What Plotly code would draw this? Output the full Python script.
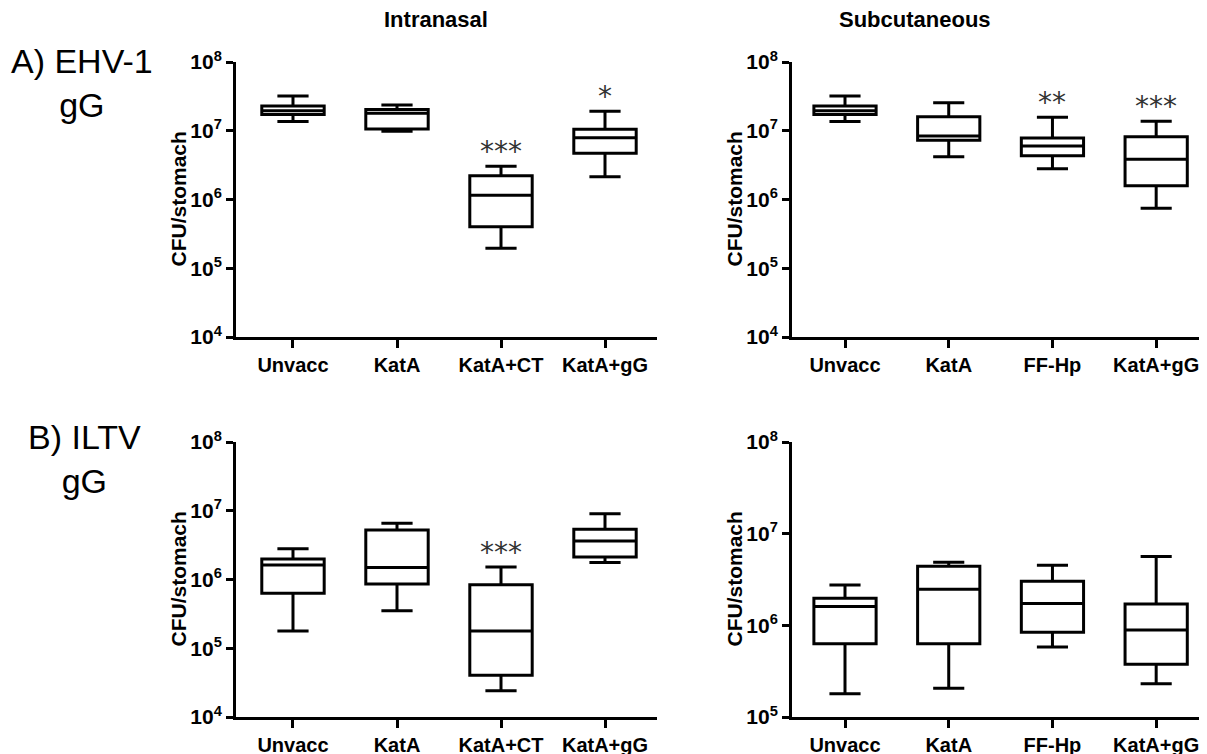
import plotly.graph_objects as go
import math

# ---------------- data ----------------
groups_intranasal = ["Unvacc", "KatA", "KatA+CT", "KatA+gG"]
groups_subcut = ["Unvacc", "KatA", "FF-Hp", "KatA+gG"]

# EHV-1 gG, intranasal
ehv_in_low = [1.36e7, 9.8e6, 1.96e5, 2.15e6]
ehv_in_q1 = [1.73e7, 1.06e7, 4.0e5, 4.7e6]
ehv_in_med = [1.95e7, 1.8e7, 1.15e6, 7.9e6]
ehv_in_q3 = [2.3e7, 2.04e7, 2.22e6, 1.05e7]
ehv_in_high = [3.2e7, 2.37e7, 3.04e6, 1.92e7]
ehv_in_sig = ["", "", "***", "*"]

# EHV-1 gG, subcutaneous
ehv_sc_low = [1.36e7, 4.2e6, 2.8e6, 7.45e5]
ehv_sc_q1 = [1.73e7, 7.3e6, 4.34e6, 1.58e6]
ehv_sc_med = [1.95e7, 8.4e6, 6.0e6, 3.85e6]
ehv_sc_q3 = [2.3e7, 1.6e7, 7.85e6, 8.2e6]
ehv_sc_high = [3.2e7, 2.56e7, 1.57e7, 1.37e7]
ehv_sc_sig = ["", "", "**", "***"]

# ILTV gG, intranasal
iltv_in_low = [1.78e5, 3.5e5, 2.4e4, 1.76e6]
iltv_in_q1 = [6.3e5, 8.6e5, 4.04e4, 2.12e6]
iltv_in_med = [1.63e6, 1.49e6, 1.78e5, 3.63e6]
iltv_in_q3 = [1.99e6, 5.25e6, 8.4e5, 5.37e6]
iltv_in_high = [2.8e6, 6.56e6, 1.52e6, 9.06e6]
iltv_in_sig = ["", "", "***", ""]

# ILTV gG, subcutaneous
iltv_sc_low = [1.79e5, 2.06e5, 5.8e5, 2.3e5]
iltv_sc_q1 = [6.3e5, 6.3e5, 8.4e5, 3.77e5]
iltv_sc_med = [1.6e6, 2.48e6, 1.73e6, 8.9e5]
iltv_sc_q3 = [1.97e6, 4.4e6, 3.02e6, 1.71e6]
iltv_sc_high = [2.75e6, 4.88e6, 4.52e6, 5.63e6]
iltv_sc_sig = ["", "", "", ""]

col_titles = ["Intranasal", "Subcutaneous"]
row_titles = ["A) EHV-1<br>gG", "B) ILTV<br>gG"]
y_title = "CFU/stomach"

# ---------------- layout helpers ----------------
W, H = 1207, 754
OFF = 8  # page body margin that offsets the figure in the browser
FONT = "Liberation Sans, Arial, sans-serif"

def px_x(p):
    return (p - OFF) / W

def px_y(p):
    return (H - (p - OFF)) / H

panels = [
    ("", groups_intranasal, ehv_in_low, ehv_in_q1, ehv_in_med, ehv_in_q3, ehv_in_high, ehv_in_sig,
     (236, 657), (62, 337), [4, 8], [-0.548, 3.5]),
    ("2", groups_subcut, ehv_sc_low, ehv_sc_q1, ehv_sc_med, ehv_sc_q3, ehv_sc_high, ehv_sc_sig,
     (792, 1207), (62, 337), [4, 8], [-0.511, 3.49]),
    ("3", groups_intranasal, iltv_in_low, iltv_in_q1, iltv_in_med, iltv_in_q3, iltv_in_high, iltv_in_sig,
     (236, 657), (442, 717), [4, 8], [-0.548, 3.5]),
    ("4", groups_subcut, iltv_sc_low, iltv_sc_q1, iltv_sc_med, iltv_sc_q3, iltv_sc_high, iltv_sc_sig,
     (792, 1207), (442, 717), [5, 8], [-0.511, 3.49]),
]

fig = go.Figure()
annotations = []
layout_axes = {}

for (aid, groups, low, q1, med, q3, high, sig, xd, yd, yr, xr) in panels:
    xs = list(range(len(groups)))
    fig.add_trace(go.Box(
        x=xs, q1=q1, median=med, q3=q3, lowerfence=low, upperfence=high,
        xaxis="x" + aid, yaxis="y" + aid,
        width=0.6, whiskerwidth=0.5,
        line=dict(color="black", width=3), fillcolor="white",
        boxpoints=False, showlegend=False, hoverinfo="skip",
    ))
    tickvals = [10 ** k for k in range(yr[0], yr[1] + 1)]
    ticktext = ["10<sup>%d</sup>" % k for k in range(yr[0], yr[1] + 1)]
    layout_axes["xaxis" + aid] = dict(
        domain=[px_x(xd[0]), min(px_x(xd[1]), 1.0)], range=xr, anchor="y" + aid,
        tickmode="array", tickvals=xs, ticktext=groups,
        showline=True, linecolor="black", linewidth=3,
        ticks="outside", ticklen=8, tickwidth=3, tickcolor="black",
        showgrid=False, zeroline=False, fixedrange=True, automargin=False,
        tickfont=dict(family=FONT, size=20, color="black", weight="bold"),
    )
    layout_axes["yaxis" + aid] = dict(
        domain=[px_y(yd[1]), px_y(yd[0])], type="log", range=yr, anchor="x" + aid,
        tickmode="array", tickvals=tickvals, ticktext=ticktext,
        showline=True, linecolor="black", linewidth=3,
        ticks="outside", ticklen=7, tickwidth=3, tickcolor="black",
        showgrid=False, zeroline=False, fixedrange=True, automargin=False,
        tickfont=dict(family=FONT, size=21, color="black", weight="bold"),
    )
    annotations.append(dict(
        text="<b>%s</b>" % y_title, xref="paper", yref="paper",
        x=px_x(xd[0] - 58), y=px_y((yd[0] + yd[1]) / 2), textangle=-90,
        showarrow=False, xanchor="center", yanchor="middle",
        font=dict(family=FONT, size=21, color="black"),
    ))
    for i, s in enumerate(sig):
        if s:
            annotations.append(dict(
                text=s, xref="x" + aid, yref="y" + aid,
                x=i, y=math.log10(high[i]), yanchor="bottom", yshift=-4,
                showarrow=False,
                font=dict(family="DejaVu Sans", size=28, color="#333333"),
            ))

for t, cx in zip(col_titles, [436, 915]):
    annotations.append(dict(
        text="<b>%s</b>" % t, xref="paper", yref="paper",
        x=px_x(cx), y=px_y(20), showarrow=False,
        xanchor="center", yanchor="middle",
        font=dict(family=FONT, size=22, color="black"),
    ))

for t, cx, cy in zip(row_titles, [82, 84], [83, 459]):
    annotations.append(dict(
        text=t, xref="paper", yref="paper",
        x=px_x(cx), y=px_y(cy), showarrow=False, align="center",
        xanchor="center", yanchor="middle",
        font=dict(family=FONT, size=34, color="black"),
    ))

fig.update_layout(
    width=W, height=H,
    margin=dict(l=0, r=0, t=0, b=0, pad=0, autoexpand=False),
    paper_bgcolor="white", plot_bgcolor="white",
    annotations=annotations,
    **layout_axes,
)

fig.write_html("out.html", config={"displayModeBar": False})
